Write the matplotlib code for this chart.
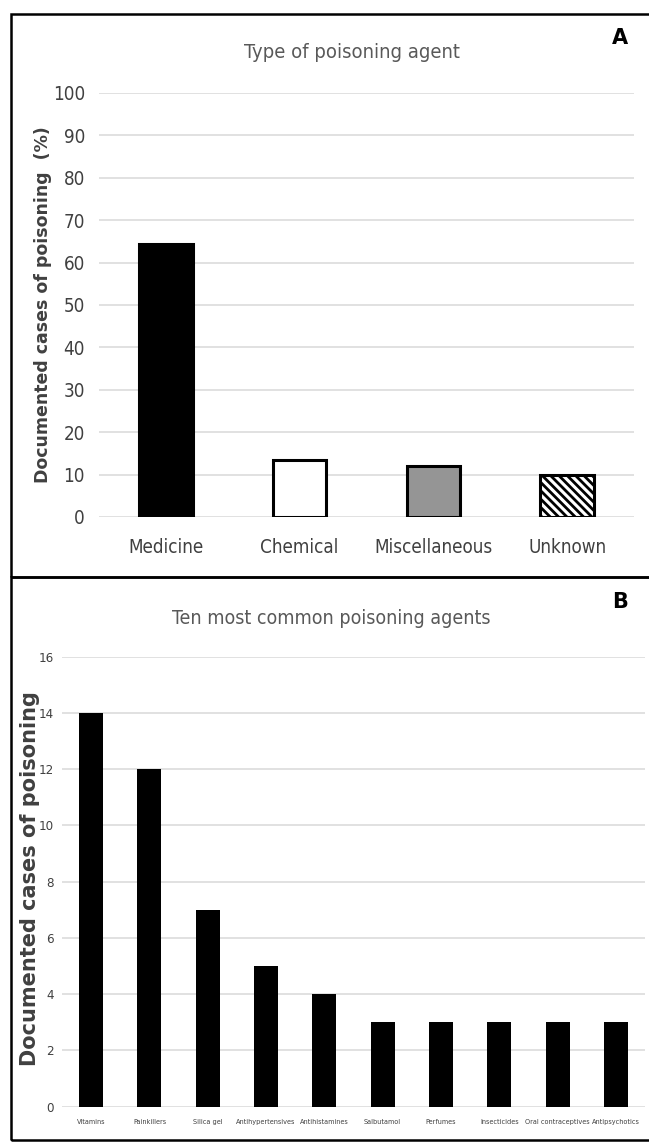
import matplotlib
matplotlib.use('Agg')
import matplotlib.pyplot as plt
from matplotlib.patches import Rectangle

W, H = 649, 1142
NARROW = dict(family='DejaVu Sans', fontstretch='condensed')

# panel A data
type_labels = ['Medicine', 'Chemical', 'Miscellaneous', 'Unknown']
type_values = [64.5, 13.5, 12.0, 10.0]
type_fill = ['black', 'white', '#959595', 'white']
type_hatch = [None, None, None, '\\\\\\\\']
type_ticks = list(range(0, 101, 10))

# panel B data
agent_labels = ['Vitamins', 'Painkillers', 'Silica gel', 'Antihypertensives',
                'Antihistamines', 'Salbutamol', 'Perfumes', 'Insecticides',
                'Oral contraceptives', 'Antipsychotics']
agent_values = [14, 12, 7, 5, 4, 3, 3, 3, 3, 3]
agent_ticks = list(range(0, 17, 2))


def px_box(left, top, right, bottom):
    return [left / W, 1 - bottom / H, (right - left) / W, (bottom - top) / H]


plt.rcParams['hatch.linewidth'] = 2.0
fig = plt.figure(figsize=(W / 100, H / 100), dpi=100)

# ---- panel A
ax1 = fig.add_axes(px_box(99, 93, 634, 517))
for i, v in enumerate(type_values):
    ax1.bar(i, v, width=0.4, color=type_fill[i], edgecolor='black',
            linewidth=2.2, hatch=type_hatch[i], zorder=3)
ax1.set_xlim(-0.5, 3.5)
ax1.set_ylim(0, 100)
ax1.set_yticks(type_ticks)
ax1.set_xticks(range(len(type_labels)))
ax1.set_xticklabels(type_labels, fontsize=13.5, color='#404040', **NARROW)
ax1.set_yticklabels([str(t) for t in type_ticks], fontsize=13.5, color='#404040', **NARROW)
ax1.tick_params(axis='y', length=0, pad=10)
ax1.tick_params(axis='x', length=0, pad=15)
ax1.grid(axis='y', color='#d9d9d9', linewidth=1.1)
ax1.set_axisbelow(True)
for s in ax1.spines.values():
    s.set_visible(False)

fig.text(352 / W, 1 - 53 / H, 'Type of poisoning agent', fontsize=14.5,
         color='#595959', ha='center', va='center', **NARROW)
fig.text(620 / W, 1 - 37.5 / H, 'A', fontsize=15, fontweight='bold',
         ha='center', va='center')
fig.text(43 / W, 1 - 305 / H, 'Documented cases of poisoning  (%)', rotation=90,
         fontsize=12.5, fontweight='bold', color='#404040', ha='center', va='center')

# ---- panel B
ax2 = fig.add_axes(px_box(62, 656.7, 645, 1106.7))
ax2.bar(range(len(agent_values)), agent_values, width=0.41, color='black', zorder=3)
ax2.set_xlim(-0.5, 9.5)
ax2.set_ylim(0, 16)
ax2.set_yticks(agent_ticks)
ax2.set_xticks(range(len(agent_labels)))
ax2.set_xticklabels(agent_labels, fontsize=5.2, color='#404040', **NARROW)
ax2.set_yticklabels([str(t) for t in agent_ticks], fontsize=9.5, color='#404040', **NARROW)
ax2.tick_params(axis='y', length=0, pad=6)
ax2.tick_params(axis='x', length=0, pad=9)
ax2.grid(axis='y', color='#d9d9d9', linewidth=1.1)
ax2.set_axisbelow(True)
for s in ax2.spines.values():
    s.set_visible(False)

fig.text(331 / W, 1 - 618 / H, 'Ten most common poisoning agents', fontsize=14,
         color='#595959', ha='center', va='center', **NARROW)
fig.text(620 / W, 1 - 602 / H, 'B', fontsize=15, fontweight='bold',
         ha='center', va='center')
fig.text(30 / W, 1 - 879 / H, 'Documented cases of poisoning', rotation=90,
         fontsize=15, fontweight='bold', color='#404040', ha='center', va='center')

# panel frames
for top, bottom in [(14, 577), (577, 1140)]:
    fig.add_artist(Rectangle((11 / W, 1 - bottom / H), (660 - 11) / W, (bottom - top) / H,
                             transform=fig.transFigure, fill=False,
                             edgecolor='black', linewidth=1.8))

fig.savefig('out.png', dpi=100)
